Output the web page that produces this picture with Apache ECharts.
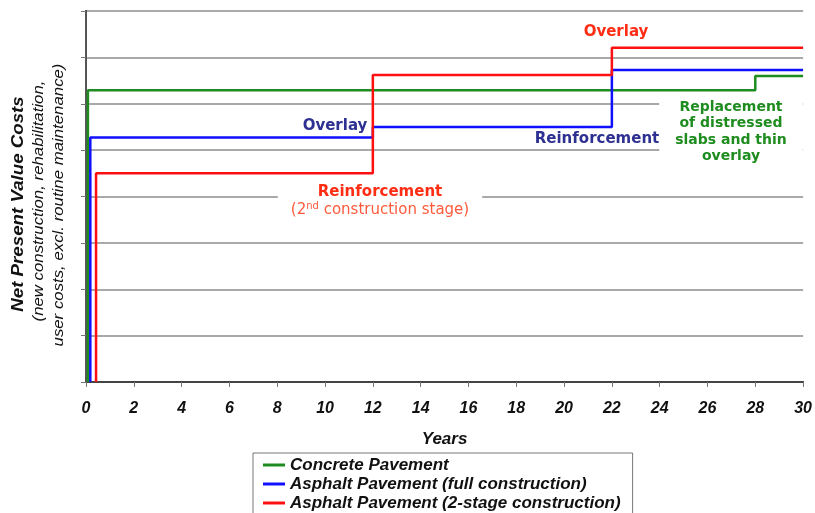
<!DOCTYPE html>
<html>
<head>
<meta charset="utf-8">
<script src="https://cdn.jsdelivr.net/npm/echarts@6/dist/echarts.min.js"></script>
<style>
html, body { margin: 0; padding: 0; background: #fff; }
#chart { width: 815px; height: 513px; }
</style>
</head>
<body>
<div id="chart"></div>
<script>
// years on x, costs in gridline units (the original has no value labels)
let concreteYears = [0.08, 0.08, 28, 30];
let concreteCost = [0, 6.29, 6.6, 6.6];

let asphaltFullYears = [0.18, 0.18, 12, 22, 30];
let asphaltFullCost = [0, 5.27, 5.5, 6.73, 6.73];

let asphaltStageYears = [0.42, 0.42, 12, 22, 30];
let asphaltStageCost = [0, 4.5, 6.62, 7.21, 7.21];

let seriesNames = [
    'Concrete Pavement',
    'Asphalt Pavement (full construction)',
    'Asphalt Pavement (2-stage construction)'
];
let seriesColours = ['#1e8c1e', '#1010ff', '#ff1010'];

let arialFont = "'Liberation Sans', Arial, sans-serif";
let verdanaFont = "'DejaVu Sans', Verdana, sans-serif";

function zip(xs, ys)
{
    let out = [];
    for (let i = 0; i < xs.length; i++) {
        out.push([xs[i], ys[i]]);
    }
    return out;
}

let chart = echarts.init(document.getElementById('chart'));

let lines = [
    zip(concreteYears, concreteCost),
    zip(asphaltFullYears, asphaltFullCost),
    zip(asphaltStageYears, asphaltStageCost)
];

let series = [];
lines.forEach((data, i) => {
    series.push({
        name: seriesNames[i],
        type: 'line',
        step: 'end',
        symbol: 'none',
        data: data,
        lineStyle: { color: seriesColours[i], width: 2.5 },
        itemStyle: { color: seriesColours[i] },
        z: 3 + i
    });
});

let option = {
    animation: false,
    grid: { left: 86, right: 9, top: 11, bottom: 131 },
    legend: {
        data: seriesNames,
        orient: 'vertical',
        left: 253,
        top: 453,
        height: 120,
        padding: [3, 12, 10, 10],
        itemGap: 1,
        itemWidth: 22,
        itemHeight: 3,
        icon: 'rect',
        borderColor: '#777',
        borderWidth: 1,
        textStyle: {
            fontFamily: arialFont,
            fontSize: 17,
            fontWeight: 'bold',
            fontStyle: 'italic',
            color: '#111',
            lineHeight: 18
        }
    },
    xAxis: [
        {
            type: 'value',
            min: 0,
            max: 30,
            interval: 2,
            axisLine: { show: true, lineStyle: { color: '#555', width: 2 } },
            axisTick: { show: true, length: 5, lineStyle: { color: '#777' } },
            axisLabel: {
                fontFamily: arialFont,
                fontSize: 16,
                fontWeight: 'bold',
                fontStyle: 'italic',
                color: '#111',
                margin: 19
            },
            splitLine: { show: false },
            name: 'Years',
            nameLocation: 'middle',
            nameGap: 49,
            nameTextStyle: {
                fontFamily: arialFont,
                fontSize: 17,
                fontWeight: 'bold',
                fontStyle: 'italic',
                color: '#111'
            }
        },
        {
            type: 'value',
            position: 'top',
            min: 0,
            max: 30,
            axisLine: { show: true, lineStyle: { color: '#444', width: 2 } },
            axisTick: { show: false },
            axisLabel: { show: false },
            splitLine: { show: false }
        }
    ],
    yAxis: [
        {
            type: 'value',
            min: 0,
            max: 8,
            interval: 1,
            axisLine: { show: true, lineStyle: { color: '#222', width: 2 } },
            axisTick: { show: true, length: 5, lineStyle: { color: '#777' } },
            axisLabel: { show: false },
            splitLine: { show: true, lineStyle: { color: '#8c8c8c', width: 1.5 } }
        },
        {
            type: 'value',
            position: 'right',
            min: 0,
            max: 8,
            interval: 1,
            axisLine: { show: true, lineStyle: { color: '#555', width: 2 } },
            axisTick: { show: true, inside: true, length: 5, lineStyle: { color: '#777' } },
            axisLabel: { show: false },
            splitLine: { show: false }
        }
    ],
    graphic: [
        // y axis title, three rotated lines
        {
            type: 'text', x: 18, y: 204, rotation: Math.PI / 2, scaleX: 1.1, z: 50,
            style: {
                text: 'Net Present Value Costs', align: 'center', verticalAlign: 'middle',
                font: "italic bold 17px 'Liberation Sans', Arial, sans-serif", fill: '#111'
            }
        },
        {
            type: 'text', x: 39, y: 201, rotation: Math.PI / 2, scaleX: 1.12, z: 50,
            style: {
                text: '(new construction, rehabilitation,', align: 'center', verticalAlign: 'middle',
                font: "italic 15px 'Liberation Sans', Arial, sans-serif", fill: '#111'
            }
        },
        {
            type: 'text', x: 59, y: 205, rotation: Math.PI / 2, scaleX: 1.12, z: 50,
            style: {
                text: 'user costs, excl. routine maintenance)', align: 'center', verticalAlign: 'middle',
                font: "italic 15px 'Liberation Sans', Arial, sans-serif", fill: '#111'
            }
        },
        // annotations
        {
            type: 'text', x: 616, y: 32, z: 50,
            style: {
                text: 'Overlay', align: 'center', verticalAlign: 'middle',
                font: "bold 15px 'DejaVu Sans', Verdana, sans-serif", fill: '#ff2d14'
            }
        },
        {
            type: 'text', x: 335, y: 126, z: 50,
            style: {
                text: 'Overlay', align: 'center', verticalAlign: 'middle',
                font: "bold 15px 'DejaVu Sans', Verdana, sans-serif", fill: '#2e3192'
            }
        },
        {
            type: 'text', x: 597, y: 139, z: 60,
            style: {
                text: 'Reinforcement', align: 'center', verticalAlign: 'middle',
                font: "bold 15px 'DejaVu Sans', Verdana, sans-serif", fill: '#2e3192'
            }
        },
        {
            type: 'text', x: 380, y: 201, z: 50,
            style: {
                text: '{b|Reinforcement}\n{n|(2}{s|nd}{n| construction stage)}',
                align: 'center', verticalAlign: 'middle',
                backgroundColor: '#fff',
                padding: [4, 13],
                rich: {
                    b: { fontFamily: verdanaFont, fontSize: 15, fontWeight: 'bold', fill: '#ff2d14', lineHeight: 18 },
                    n: { fontFamily: verdanaFont, fontSize: 15, fill: '#ff5a3c', lineHeight: 18 },
                    s: { fontFamily: verdanaFont, fontSize: 10, fill: '#ff5a3c', lineHeight: 18, verticalAlign: 'top' }
                }
            }
        },
        {
            type: 'text', x: 731, y: 132, z: 50,
            style: {
                text: 'Replacement\nof distressed\nslabs and thin\noverlay',
                align: 'center', verticalAlign: 'middle',
                font: "bold 14px 'DejaVu Sans', Verdana, sans-serif", fill: '#1e8c1e',
                lineHeight: 16.5,
                backgroundColor: '#fff',
                padding: [2, 16]
            }
        }
    ],
    series: series
};

chart.setOption(option);
</script>
</body>
</html>
